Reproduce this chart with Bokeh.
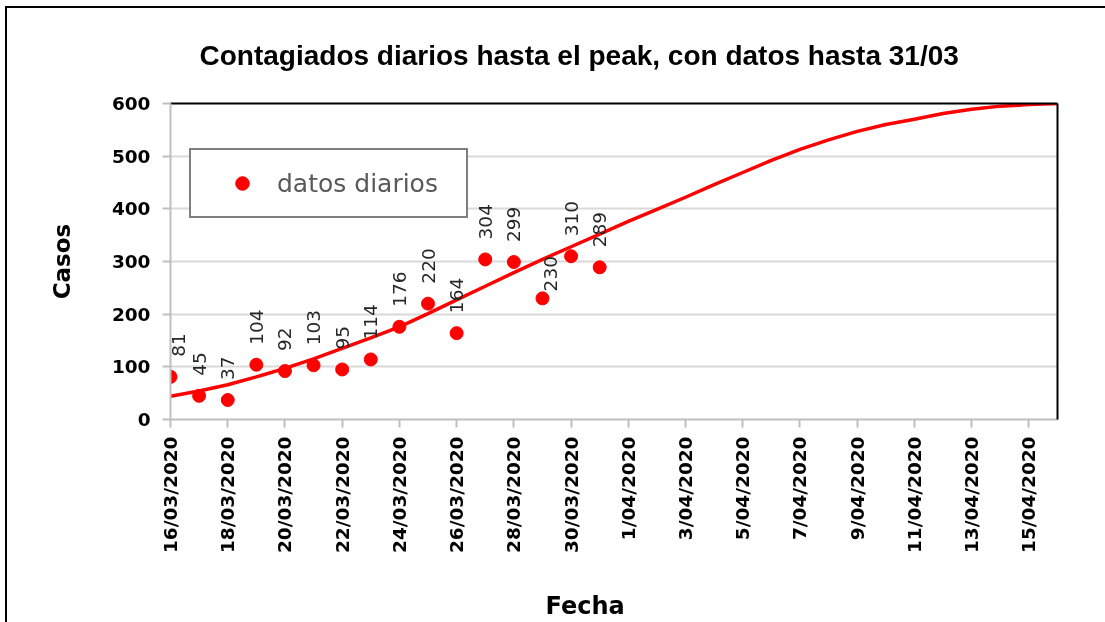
import math
import pandas as pd
from bokeh.plotting import figure
from bokeh.models import (Range1d, FixedTicker, SingleIntervalTicker, LinearAxis,
                          ColumnDataSource, Legend, LegendItem, LabelSet, Title)
from bokeh.core.properties import value
from bokeh.embed import file_html
from bokeh.resources import INLINE

# ---------------- data ----------------
fecha_inicio = "2020-03-16"
casos_diarios = [81, 45, 37, 104, 92, 103, 95, 114, 176, 220, 164, 304, 299, 230, 310, 289]
curva_peak = [44, 54, 66, 81, 97, 115, 135, 155, 176, 201, 227, 253, 279, 304, 328, 352,
              376, 399, 422, 446, 469, 492, 513, 531, 547, 560, 570, 581, 589, 595, 598, 600]
etiquetas_eje_x = ["16/03/2020", "18/03/2020", "20/03/2020", "22/03/2020", "24/03/2020",
                   "26/03/2020", "28/03/2020", "30/03/2020", "1/04/2020", "3/04/2020",
                   "5/04/2020", "7/04/2020", "9/04/2020", "11/04/2020", "13/04/2020",
                   "15/04/2020"]

fechas_datos = pd.date_range(fecha_inicio, periods=len(casos_diarios), freq="D")
fechas_curva = pd.date_range(fecha_inicio, periods=len(curva_peak), freq="D")

# label placement as in the reference: first label nudged inside the frame,
# the "230" label sits close to its marker, slightly to the right
etq_dx = [8 if i == 0 else (8 if v == 230 else 0) for i, v in enumerate(casos_diarios)]
etq_dy = [7 if v == 230 else 20 for v in casos_diarios]

datos = ColumnDataSource(dict(fecha=fechas_datos, casos=casos_diarios,
                              etiqueta=[str(v) for v in casos_diarios],
                              dx=etq_dx, dy=etq_dy))
curva = ColumnDataSource(dict(fecha=fechas_curva, casos=curva_peak))

tick_dates = pd.to_datetime(etiquetas_eje_x, format="%d/%m/%Y")
tick_ms = [int(t.value // 10**6) for t in tick_dates]

# ---------------- figure ----------------
# the chart continues past the window edges, as in the cropped reference
p = figure(width=1105, height=651, x_axis_type="datetime",
           output_backend="svg", toolbar_location=None,
           x_range=Range1d(fechas_curva[0], fechas_curva[-1]),
           y_range=Range1d(0, 600),
           min_border_left=163, min_border_right=55,
           min_border_top=95, min_border_bottom=240)
p.styles = {"position": "fixed", "left": "5px", "top": "6px",
            "border-left": "2px solid #000000", "border-top": "2px solid #000000"}
p.outline_line_color = None
p.background_fill_color = "white"
p.border_fill_color = "white"

# title
p.title.text = "Contagiados diarios hasta el peak, con datos hasta 31/03"
p.title.text_font = "Liberation Sans"
p.title.text_font_style = "bold"
p.title.text_font_size = "28px"
p.title.text_color = "black"
p.title.align = "left"
p.title.offset = 29
p.title.vertical_align = "top"
p.title.standoff = 61

# grids
p.xgrid.grid_line_color = None
p.ygrid.grid_line_color = "#d9d9d9"
p.ygrid.grid_line_width = 2

# y axis
ya = p.yaxis[0]
ya.ticker = SingleIntervalTicker(interval=100)
ya.axis_line_color = "#bfbfbf"
ya.axis_line_width = 2
ya.major_tick_line_color = "#bfbfbf"
ya.major_tick_line_width = 2
ya.major_tick_in = 0
ya.major_tick_out = 8
ya.minor_tick_line_color = None
ya.major_label_text_font = "DejaVu Sans"
ya.major_label_text_font_style = "bold"
ya.major_label_text_font_size = "18.5px"
ya.major_label_text_color = "black"
ya.major_label_standoff = 12
ya.axis_label = "Casos"
ya.axis_label_text_font = "DejaVu Sans"
ya.axis_label_text_font_style = "bold"
ya.axis_label_text_font_size = "23px"
ya.axis_label_text_color = "black"
ya.axis_label_standoff = 34

# x axis
xa = p.xaxis[0]
xa.ticker = FixedTicker(ticks=tick_ms)
xa.major_label_overrides = {ms: lab for ms, lab in zip(tick_ms, etiquetas_eje_x)}
xa.major_label_orientation = math.pi / 2
xa.axis_line_color = "#bfbfbf"
xa.axis_line_width = 2
xa.major_tick_line_color = "#bfbfbf"
xa.major_tick_line_width = 2
xa.major_tick_in = 0
xa.major_tick_out = 8
xa.minor_tick_line_color = None
xa.major_label_text_font = "DejaVu Sans"
xa.major_label_text_font_style = "bold"
xa.major_label_text_font_size = "18.5px"
xa.major_label_text_color = "black"
xa.major_label_standoff = 9

# black frame lines on top and right
def frame_axis():
    return LinearAxis(ticker=FixedTicker(ticks=[]), axis_line_color="black",
                      axis_line_width=2, major_tick_line_color=None,
                      minor_tick_line_color=None, major_label_text_font_size="0px",
                      major_tick_out=0, major_tick_in=0, major_label_standoff=0)
p.add_layout(frame_axis(), "above")
p.add_layout(frame_axis(), "right")

# x axis title
p.add_layout(Title(text="Fecha", align="left", offset=375, standoff=68,
                   text_font="DejaVu Sans", text_font_style="bold",
                   text_font_size="24px", text_color="black"), "below")

# ---------------- glyphs ----------------
p.line("fecha", "casos", source=curva, line_color="#ff0000", line_width=3.5)
pts = p.scatter("fecha", "casos", source=datos, size=13, color="#ff0000")
p.add_layout(LabelSet(x="fecha", y="casos", text="etiqueta", source=datos,
                      angle=math.pi / 2, text_align="left", text_baseline="middle",
                      x_offset="dx", y_offset="dy",
                      text_font=value("DejaVu Sans"), text_font_size=value("18.5px"),
                      text_color="#262626"))

# legend
legend = Legend(items=[LegendItem(label="datos diarios", renderers=[pts])],
                location=(19, 201), padding=16, margin=0, spacing=0,
                glyph_width=70, glyph_height=34, label_standoff=0, label_width=173,
                label_text_font="DejaVu Sans", label_text_font_size="25px",
                label_text_color="#595959", border_line_color="black",
                border_line_width=2, background_fill_color="white",
                background_fill_alpha=1)
p.add_layout(legend, "center")

open("out.html", "w").write(file_html(p, INLINE))
